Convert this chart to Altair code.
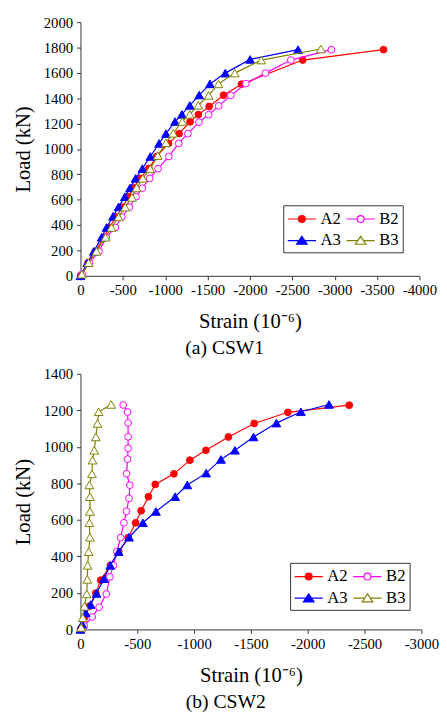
import altair as alt
import pandas as pd

SERIES = ["A2", "B2", "A3", "B3"]
COLORS = ["#FF0000", "#FF00FF", "#0000FF", "#808000"]
FILLS = ["#FF0000", "#FFFFFF", "#0000FF", "#FFFFFF"]
SHAPES = ["circle", "circle", "triangle-up", "triangle-up"]

# ---- CSW1 ----
CSW1_A2_strain = [0, -90, -175, -275, -340, -420, -495, -566, -630, -700, -808, -900, -1040, -1163, -1293, -1392, -1519, -1688, -1900, -2622, -3577]
CSW1_A2_load = [0, 103, 193, 304, 381, 464, 541, 623, 693, 768, 847, 941, 1044, 1121, 1214, 1271, 1335, 1424, 1511, 1701, 1783]
CSW1_B2_strain = [-19, -104, -219, -304, -412, -489, -578, -655, -731, -816, -916, -1043, -1159, -1267, -1398, -1513, -1632, -1775, -1952, -2183, -2483, -2961]
CSW1_B2_load = [13, 103, 193, 304, 381, 464, 541, 624, 691, 768, 845, 941, 1044, 1121, 1211, 1270, 1340, 1422, 1515, 1598, 1701, 1783]
CSW1_A3_strain = [0, -81, -158, -250, -308, -385, -450, -524, -585, -651, -731, -824, -928, -1009, -1116, -1197, -1290, -1401, -1528, -1709, -2002, -2568]
CSW1_A3_load = [0, 103, 193, 304, 381, 469, 544, 624, 693, 768, 845, 941, 1044, 1121, 1216, 1273, 1343, 1425, 1513, 1598, 1706, 1783]
CSW1_B3_strain = [-15, -96, -189, -296, -366, -450, -527, -608, -662, -735, -824, -912, -1009, -1093, -1201, -1290, -1390, -1513, -1629, -1821, -2133, -2837]
CSW1_B3_load = [13, 103, 193, 304, 381, 464, 541, 618, 693, 768, 843, 948, 1049, 1124, 1216, 1273, 1345, 1422, 1513, 1598, 1701, 1788]

# ---- CSW2 ----
CSW2_A2_strain = [0, -34, -78, -135, -178, -264, -336, -420, -485, -534, -598, -658, -822, -963, -1104, -1302, -1529, -1825, -2365]
CSW2_A2_load = [0, 64, 127, 199, 270, 351, 426, 503, 584, 650, 727, 794, 852, 927, 981, 1054, 1128, 1189, 1228]
CSW2_B2_strain = [-32, -103, -164, -227, -259, -290, -320, -353, -382, -405, -427, -434, -405, -414, -419, -419, -419, -414, -376]
CSW2_B2_load = [19, 68, 122, 194, 288, 351, 426, 503, 584, 647, 718, 790, 853, 933, 992, 1055, 1131, 1190, 1229]
CSW2_A3_strain = [0, -14, -46, -89, -141, -207, -262, -336, -428, -549, -664, -833, -940, -1106, -1236, -1359, -1523, -1724, -1940, -2187]
CSW2_A3_load = [0, 29, 91, 136, 197, 278, 351, 426, 505, 584, 646, 727, 791, 856, 931, 981, 1054, 1130, 1192, 1232]
CSW2_B3_strain = [-6, -20, -34, -55, -60, -63, -72, -83, -78, -83, -83, -78, -101, -106, -121, -135, -150, -160, -270]
CSW2_B3_load = [11, 64, 127, 195, 274, 351, 426, 505, 584, 646, 727, 791, 852, 927, 981, 1054, 1128, 1192, 1232]

CSW1 = {"A2": (CSW1_A2_strain, CSW1_A2_load), "B2": (CSW1_B2_strain, CSW1_B2_load),
        "A3": (CSW1_A3_strain, CSW1_A3_load), "B3": (CSW1_B3_strain, CSW1_B3_load)}
CSW2 = {"A2": (CSW2_A2_strain, CSW2_A2_load), "B2": (CSW2_B2_strain, CSW2_B2_load),
        "A3": (CSW2_A3_strain, CSW2_A3_load), "B3": (CSW2_B3_strain, CSW2_B3_load)}

# legend glyphs: line with marker in the middle
LEG_PATHS = [
    "M-1.6,0L-0.39,0M0.39,0L1.6,0M-0.39,0A0.39,0.39,0,1,1,0.39,0A0.39,0.39,0,1,1,-0.39,0Z",
    "M-1.6,0L-0.39,0M0.39,0L1.6,0M-0.39,0A0.39,0.39,0,1,1,0.39,0A0.39,0.39,0,1,1,-0.39,0Z",
    "M-1.6,0L-0.32,0M0.32,0L1.6,0M0,-0.48L0.6,0.42L-0.6,0.42Z",
    "M-1.6,0L-0.32,0M0.32,0L1.6,0M0,-0.48L0.6,0.42L-0.6,0.42Z",
]

FONT = "Liberation Serif"
AXC = "#333333"


def axis(values, title, tpad, lpad, expr=None):
    kw = dict(values=values, title=title, titlePadding=tpad, grid=False,
              domainColor=AXC, tickColor=AXC, tickSize=4, labelPadding=lpad,
              labelFont=FONT, labelFontSize=15, labelColor="black", labelOverlap=False,
              labelFlush=False,
              titleFont=FONT, titleFontSize=21, titleFontWeight="normal", titleColor="black")
    if expr:
        kw["labelExpr"] = expr
    else:
        kw["format"] = "d"
    return alt.Axis(**kw)


def panel(data, xmin, ymax, caption, lx, ly, w, h):
    xscale = alt.Scale(domain=[xmin, 0], reverse=True, nice=False)
    yscale = alt.Scale(domain=[0, ymax], nice=False)
    xaxis = axis(list(range(0, xmin - 1, -500)), "Strain (10\u207b\u2076)", 14, 3,
                 "datum.value == 0 ? '0' : '-' + abs(datum.value)")
    yaxis = axis(list(range(0, ymax + 1, 200)), "Load (kN)", 10, 4)
    layers = []
    for s, c, f, sh in zip(SERIES, COLORS, FILLS, SHAPES):
        xs, ys = data[s]
        df = pd.DataFrame({"strain": xs, "load": ys, "i": list(range(len(xs)))})
        base = alt.Chart(df)
        enc = dict(x=alt.X("strain:Q", scale=xscale, axis=xaxis),
                   y=alt.Y("load:Q", scale=yscale, axis=yaxis))
        layers.append(base.mark_line(color=c, strokeWidth=1.2).encode(order="i:Q", **enc))
        size = 48 if sh == "circle" else 80
        layers.append(base.mark_point(shape=sh, filled=True, fill=f, stroke=c, strokeWidth=1,
                                      size=size, opacity=1).encode(**enc))
    leg = alt.Legend(orient="none", legendX=lx, legendY=ly, columns=2, direction="horizontal",
                     title=None, values=SERIES,
                     symbolSize=324, symbolStrokeWidth=1.2, symbolOffset=5,
                     labelFont=FONT, labelFontSize=17, labelColor="black", labelOffset=9,
                     padding=4, rowPadding=4, columnPadding=3,
                     strokeColor=AXC, fillColor="white")
    ghost = alt.Chart(pd.DataFrame({"series": SERIES})).mark_point(
        filled=True, strokeWidth=1.2, opacity=1).encode(
        shape=alt.Shape("series:N", scale=alt.Scale(domain=SERIES, range=LEG_PATHS), legend=leg),
        fill=alt.Fill("series:N", scale=alt.Scale(domain=SERIES, range=FILLS), legend=leg),
        stroke=alt.Stroke("series:N", scale=alt.Scale(domain=SERIES, range=COLORS), legend=leg),
    ).transform_filter("false")
    layers.append(ghost)
    return alt.layer(*layers).properties(
        width=w, height=h,
        title=alt.TitleParams(caption, orient="bottom", anchor="middle", frame="bounds",
                              font=FONT, fontSize=20, fontWeight="normal", color="black", offset=7))


top = panel(CSW1, -4000, 2000, "(a) CSW1", 207, 187, 346, 259)
bottom = panel(CSW2, -3000, 1400, "(b) CSW2", 214, 193, 348, 261)

chart = alt.vconcat(top, bottom, spacing=9).resolve_scale(
    shape="independent", fill="independent", stroke="independent"
).resolve_legend(
    shape="independent", fill="independent", stroke="independent"
).properties(
    padding={"left": 5, "top": 0, "right": 0, "bottom": 0}
).configure_view(stroke=None)

chart.save("out.html", embed_options={"renderer": "svg", "actions": False})
